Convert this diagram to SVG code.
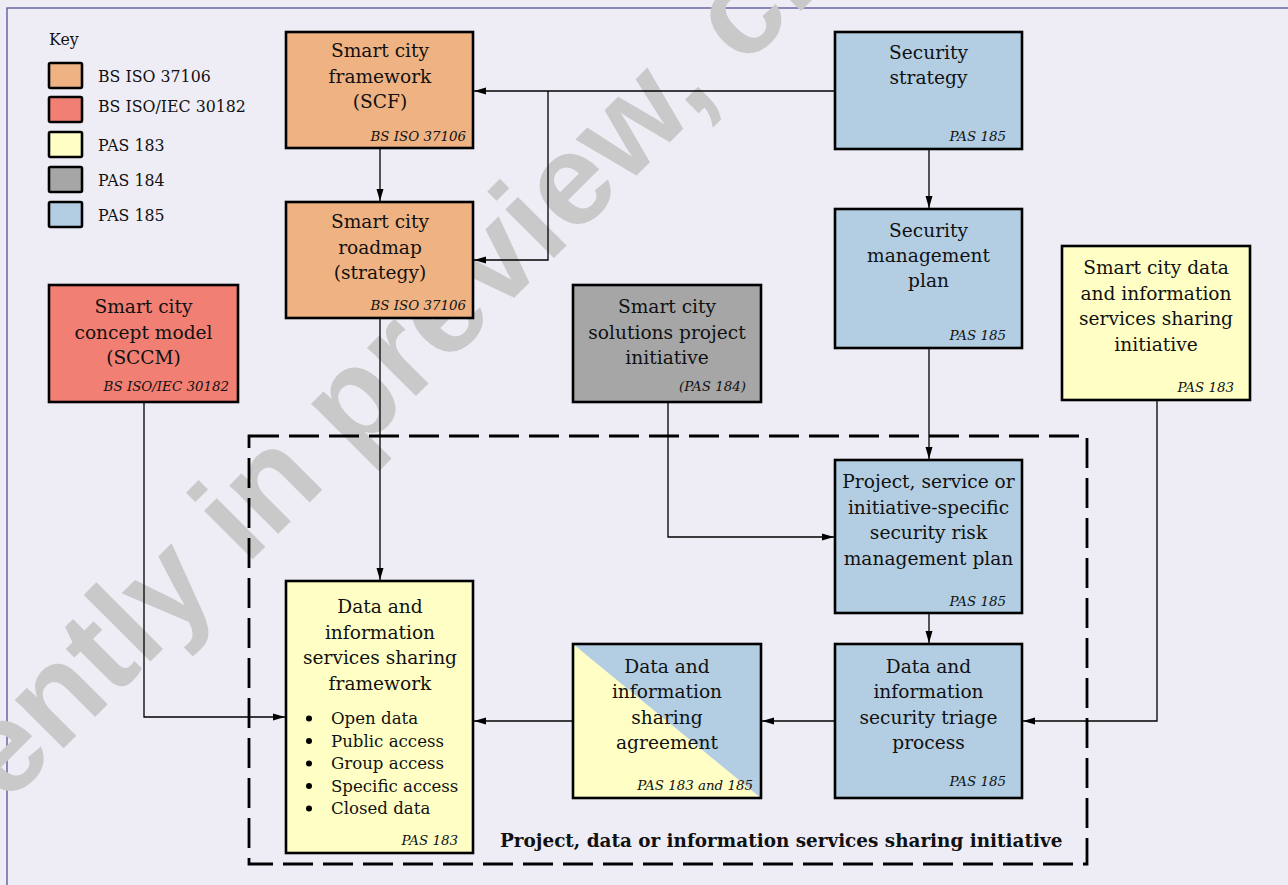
<svg xmlns="http://www.w3.org/2000/svg" width="1288" height="885" viewBox="0 0 1288 885">
<defs>
<marker id="arr" markerUnits="userSpaceOnUse" markerWidth="14" markerHeight="10" refX="12" refY="4" orient="auto">
<path d="M0,0.5 L12,4 L0,7.5 z" fill="#000"/>
</marker>
<style>
.bg{fill:#EEEDF6}
.frame{fill:none;stroke:#5E5EA0;stroke-width:1.4}
.box{stroke:#000;stroke-width:2.6}
.orange{fill:#EFB383}
.red{fill:#F27F73}
.yellow{fill:#FFFFC5}
.gray{fill:#A6A6A6}
.blue{fill:#B3CDE2}
.t{font-family:"DejaVu Serif",serif;font-size:18.6px;fill:#111;text-anchor:middle}
.lbl{font-family:"DejaVu Serif",serif;font-style:italic;font-size:13.4px;fill:#111;text-anchor:end}
.key{font-family:"DejaVu Serif",serif;font-size:15.8px;fill:#111}
.bl{font-family:"DejaVu Serif",serif;font-size:16.6px;fill:#111}
.title{font-family:"DejaVu Serif",serif;font-weight:bold;font-size:18.4px;fill:#111}
.c{fill:none;stroke:#000;stroke-width:1.3}
.wm{font-family:"Liberation Sans",Arial,sans-serif;font-weight:bold;font-size:130px;fill:#C9C9C9}
</style>
</defs>
<rect class="bg" x="0" y="0" width="1288" height="885"/>
<rect class="frame" x="7" y="8" width="1300" height="900"/>

<g id="watermark">
<text class="wm" transform="translate(-188,1000) rotate(-45)" x="0" y="0">Currently in preview, click</text>
</g>

<g id="key">
<text class="key" x="49" y="45">Key</text>
<rect class="box orange" x="49" y="63" width="33" height="25" rx="1.5"/>
<rect class="box red" x="49" y="97" width="33" height="25" rx="1.5"/>
<rect class="box yellow" x="49" y="132" width="33" height="25" rx="1.5"/>
<rect class="box gray" x="49" y="167" width="33" height="25" rx="1.5"/>
<rect class="box blue" x="49" y="202" width="33" height="25" rx="1.5"/>
<text class="key" x="98" y="81.5">BS ISO 37106</text>
<text class="key" x="98" y="111.5">BS ISO/IEC 30182</text>
<text class="key" x="98" y="150.5">PAS 183</text>
<text class="key" x="98" y="185.5">PAS 184</text>
<text class="key" x="98" y="220.5">PAS 185</text>
</g>

<g id="initiative-boundary">
<rect x="249" y="436" width="838" height="428" fill="none" stroke="#000" stroke-width="2.8" stroke-dasharray="30 10"/>
<text class="title" x="500" y="847">Project, data or information services sharing initiative</text>
</g>

<g id="connectors">
<path class="c" d="M835,91 H474" marker-end="url(#arr)"/>
<path class="c" d="M548,91 V260 H474" marker-end="url(#arr)"/>
<path class="c" d="M380,148 V201" marker-end="url(#arr)"/>
<path class="c" d="M929,149 V208" marker-end="url(#arr)"/>
<path class="c" d="M929,348 V459" marker-end="url(#arr)"/>
<path class="c" d="M668,402 V537 H834" marker-end="url(#arr)"/>
<path class="c" d="M380,318 V580" marker-end="url(#arr)"/>
<path class="c" d="M144,402 V717 H285" marker-end="url(#arr)"/>
<path class="c" d="M929,613 V643" marker-end="url(#arr)"/>
<path class="c" d="M1157,400 V721 H1023" marker-end="url(#arr)"/>
<path class="c" d="M835,721 H762" marker-end="url(#arr)"/>
<path class="c" d="M573,721 H474" marker-end="url(#arr)"/>
</g>

<g id="scf">
<rect class="box orange" x="286" y="32" width="187" height="116"/>
<text class="t" x="380" y="57">Smart city</text>
<text class="t" x="380" y="82.5">framework</text>
<text class="t" x="380" y="108">(SCF)</text>
<text class="lbl" x="466" y="140.5">BS ISO 37106</text>
</g>

<g id="roadmap">
<rect class="box orange" x="286" y="202" width="187" height="116"/>
<text class="t" x="380" y="228">Smart city</text>
<text class="t" x="380" y="253.5">roadmap</text>
<text class="t" x="380" y="279">(strategy)</text>
<text class="lbl" x="466" y="310">BS ISO 37106</text>
</g>

<g id="security-strategy">
<rect class="box blue" x="835" y="32" width="187" height="117"/>
<text class="t" x="928.5" y="59">Security</text>
<text class="t" x="928.5" y="84">strategy</text>
<text class="lbl" x="1006" y="140.5">PAS 185</text>
</g>

<g id="security-management-plan">
<rect class="box blue" x="835" y="209" width="187" height="139"/>
<text class="t" x="928.5" y="236.5">Security</text>
<text class="t" x="928.5" y="262">management</text>
<text class="t" x="928.5" y="287">plan</text>
<text class="lbl" x="1006" y="340">PAS 185</text>
</g>

<g id="data-sharing-initiative">
<rect class="box yellow" x="1062" y="246" width="188" height="154"/>
<text class="t" x="1156" y="274">Smart city data</text>
<text class="t" x="1156" y="299.5">and information</text>
<text class="t" x="1156" y="325">services sharing</text>
<text class="t" x="1156" y="350.5">initiative</text>
<text class="lbl" x="1234" y="392">PAS 183</text>
</g>

<g id="sccm">
<rect class="box red" x="49" y="285" width="189" height="117"/>
<text class="t" x="143.5" y="313">Smart city</text>
<text class="t" x="143.5" y="338.5">concept model</text>
<text class="t" x="143.5" y="364">(SCCM)</text>
<text class="lbl" x="229" y="390.5">BS ISO/IEC 30182</text>
</g>

<g id="solutions-project">
<rect class="box gray" x="573" y="285" width="188" height="117"/>
<text class="t" x="667" y="313">Smart city</text>
<text class="t" x="667" y="338.5">solutions project</text>
<text class="t" x="667" y="364">initiative</text>
<text class="lbl" x="746" y="390.5">(PAS 184)</text>
</g>

<g id="risk-plan">
<rect class="box blue" x="835" y="460" width="187" height="153"/>
<text class="t" x="928.5" y="488">Project, service or</text>
<text class="t" x="928.5" y="513.5">initiative-specific</text>
<text class="t" x="928.5" y="539">security risk</text>
<text class="t" x="928.5" y="564.5">management plan</text>
<text class="lbl" x="1006" y="605.5">PAS 185</text>
</g>

<g id="sharing-framework">
<rect class="box yellow" x="286" y="581" width="187" height="272"/>
<text class="t" x="380" y="613">Data and</text>
<text class="t" x="380" y="638.5">information</text>
<text class="t" x="380" y="664">services sharing</text>
<text class="t" x="380" y="689.5">framework</text>
<circle cx="309" cy="718.5" r="3"/>
<circle cx="309" cy="741" r="3"/>
<circle cx="309" cy="763.5" r="3"/>
<circle cx="309" cy="786" r="3"/>
<circle cx="309" cy="808.5" r="3"/>
<text class="bl" x="331" y="724">Open data</text>
<text class="bl" x="331" y="746.5">Public access</text>
<text class="bl" x="331" y="769">Group access</text>
<text class="bl" x="331" y="791.5">Specific access</text>
<text class="bl" x="331" y="814">Closed data</text>
<text class="lbl" x="458" y="845">PAS 183</text>
</g>

<g id="sharing-agreement">
<polygon class="yellow" points="573,644 573,798 761,798"/>
<polygon class="blue" points="573,644 761,644 761,798"/>
<rect x="573" y="644" width="188" height="154" fill="none" stroke="#000" stroke-width="2.6"/>
<text class="t" x="667" y="672.5">Data and</text>
<text class="t" x="667" y="698">information</text>
<text class="t" x="667" y="723.5">sharing</text>
<text class="t" x="667" y="749">agreement</text>
<text class="lbl" x="753" y="790">PAS 183 and 185</text>
</g>

<g id="triage">
<rect class="box blue" x="835" y="644" width="187" height="154"/>
<text class="t" x="928.5" y="672.5">Data and</text>
<text class="t" x="928.5" y="698">information</text>
<text class="t" x="928.5" y="723.5">security triage</text>
<text class="t" x="928.5" y="749">process</text>
<text class="lbl" x="1006" y="785.5">PAS 185</text>
</g>
</svg>
